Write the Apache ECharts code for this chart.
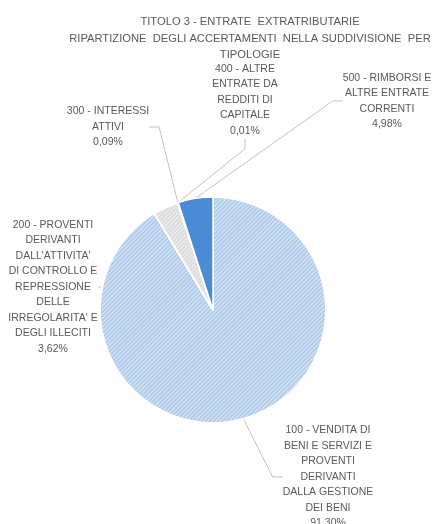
<!DOCTYPE html>
<html><head><meta charset="utf-8">
<script src="https://cdn.jsdelivr.net/npm/echarts@6/dist/echarts.min.js"></script>
<style>html,body{margin:0;padding:0;background:#fff;}#c{width:438px;height:524px;}</style>
</head><body><div id="c"></div>
<script>
const titleLines = ['TITOLO 3 - ENTRATE  EXTRATRIBUTARIE', 'RIPARTIZIONE  DEGLI ACCERTAMENTI  NELLA SUDDIVISIONE  PER', 'TIPOLOGIE'];
const categories = [
  '100 - VENDITA DI\nBENI E SERVIZI E\nPROVENTI\nDERIVANTI\nDALLA GESTIONE\nDEI BENI',
  '200 - PROVENTI\nDERIVANTI\nDALL\'ATTIVITA\'\nDI CONTROLLO E\nREPRESSIONE\nDELLE\nIRREGOLARITA\' E\nDEGLI ILLECITI',
  '300 - INTERESSI\nATTIVI',
  '400 - ALTRE\nENTRATE DA\nREDDITI DI\nCAPITALE',
  '500 - RIMBORSI E\nALTRE ENTRATE\nCORRENTI'
];
const values = [91.30, 3.62, 0.09, 0.01, 4.98];
const colors = ['#b1cbea', '#dcdcdc', '#cfd6de', '#c9d9ec', '#4a8bd4'];
const labelPos = [[328, 477], [53, 287], [108, 127], [245, 100], [387, 101]];

const chart = echarts.init(document.getElementById('c'), null, {renderer: 'canvas'});
const fontFamily = '"Liberation Sans", Arial, sans-serif';
chart.setOption({
  animation: false,
  title: {
    text: titleLines.join('\n'),
    left: 245, top: 9, textAlign: 'center',
    textStyle: {fontFamily, fontSize: 11.2, fontWeight: 'normal', color: '#595959', lineHeight: 16.5}
  },
  series: [{
    type: 'pie',
    center: [213, 310],
    radius: 113,
    startAngle: 90,
    clockwise: true,
    avoidLabelOverlap: false,
    itemStyle: {borderColor: '#fff', borderWidth: 1.5},
    label: {
      show: true,
      fontFamily, fontSize: 10.5, color: '#595959', lineHeight: 15.5, align: 'center',
      formatter: p => p.name + '\n' + p.value.toFixed(2).replace('.', ',') + '%'
    },
    labelLine: {show: true, length: 10, length2: 10, lineStyle: {color: '#cbbfb3', width: 1}},
    labelLayout: p => ({x: labelPos[p.dataIndex][0], y: labelPos[p.dataIndex][1], align: 'center', verticalAlign: 'middle'}),
    data: values.map((v, i) => ({
      name: categories[i], value: v,
      itemStyle: Object.assign({color: colors[i]}, (i === 0 || i === 1) ? {
        decal: {symbol: 'rect', symbolSize: 1, dashArrayX: [1, 0], dashArrayY: [1, 2], rotation: -Math.PI / 4, color: 'rgba(255,255,255,0.55)'}
      } : {})
    }))
  }]
});
</script></body></html>
